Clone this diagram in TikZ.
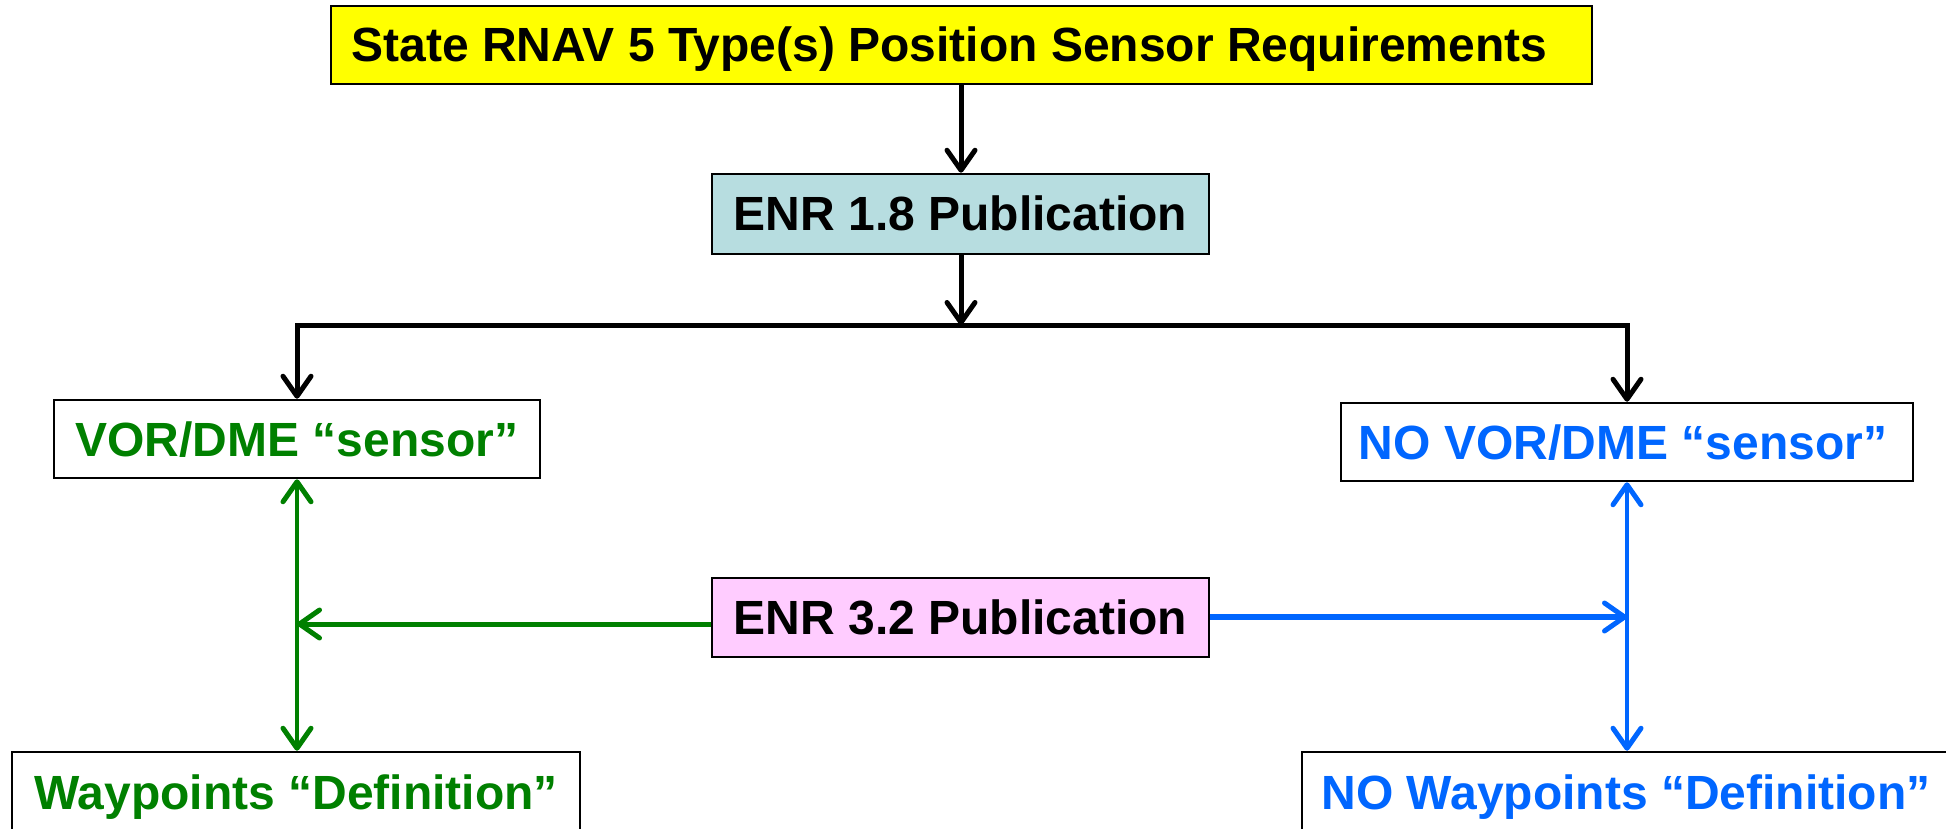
\documentclass[tikz,border=0pt]{standalone}
\usepackage{fontspec}
\setmainfont{Liberation Sans}
\usetikzlibrary{arrows.meta}
\definecolor{boxyellow}{HTML}{FFFF00}
\definecolor{boxaqua}{HTML}{B7DDE0}
\definecolor{boxpink}{HTML}{FFCCFF}
\definecolor{vorgreen}{HTML}{008000}
\definecolor{noblue}{HTML}{0066FF}
\tikzset{
  x=1pt, y=-1pt,
  flowbox/.style={draw=black, line width=2.5pt, inner sep=0pt,
    font=\fontsize{48}{57}\selectfont\bfseries,
    text height=34pt, text depth=0pt, align=center},
  blkline/.style={draw=black, line width=5pt},
  grnline/.style={draw=vorgreen, line width=4pt},
  blueline/.style={draw=noblue, line width=4pt},
  barb/.tip={Straight Barb[length=20pt,width=28pt,line width=5pt,round]},
}
\begin{document}
\begin{tikzpicture}
\useasboundingbox (0,0) rectangle (1946,829);
\clip (0,0) rectangle (1946,829);

% boxes
\node[flowbox, fill=boxyellow, minimum width=1261pt, minimum height=78pt]
  (top) at (961.5,45) {State RNAV 5 Type(s) Position Sensor Requirements\hspace*{24pt}};
\node[flowbox, fill=boxaqua, minimum width=497pt, minimum height=80pt]
  (enr18) at (960.5,214) {ENR 1.8 Publication};
\node[flowbox, fill=white, text=vorgreen, minimum width=486pt, minimum height=78pt]
  (vor) at (297,439) {VOR/DME “sensor”};
\node[flowbox, fill=white, text=noblue, minimum width=572pt, minimum height=78pt]
  (novor) at (1627,442) {NO VOR/DME “sensor”\hspace*{8pt}};
\node[flowbox, fill=boxpink, minimum width=497pt, minimum height=79pt]
  (enr32) at (960.5,617.5) {ENR 3.2 Publication};
\node[flowbox, fill=white, text=vorgreen, minimum width=568pt, minimum height=80pt]
  (wp) at (296,792) {Waypoints “Definition”};
\node[flowbox, fill=white, text=noblue, minimum width=648pt, minimum height=80pt]
  (nowp) at (1626,792) {NO Waypoints “Definition”};

% branch points
\coordinate (bus) at (961,325);
\coordinate (busL) at (297,325);
\coordinate (busR) at (1627,325);
\coordinate (gl) at (297,624);
\coordinate (br) at (1627,617);

% black flow
\draw[blkline, -barb] (top.south -| bus) -- (enr18.north -| bus);
\draw[blkline, -barb] (enr18.south -| bus) -- (bus);
\draw[blkline, barb-barb] (vor.north -| busL) -- (busL) -- (busR) -- (novor.north -| busR);

% green side
\draw[grnline, line width=3.5pt, barb-barb] (vor.south -| busL) -- (wp.north -| busL);
\draw[grnline, line width=5pt, -barb] (enr32.west |- gl) -- (gl);

% blue side
\draw[blueline, barb-barb] (novor.south -| busR) -- (nowp.north -| busR);
\draw[blueline, line width=6pt, -barb] (enr32.east |- br) -- (br);
\end{tikzpicture}
\end{document}
